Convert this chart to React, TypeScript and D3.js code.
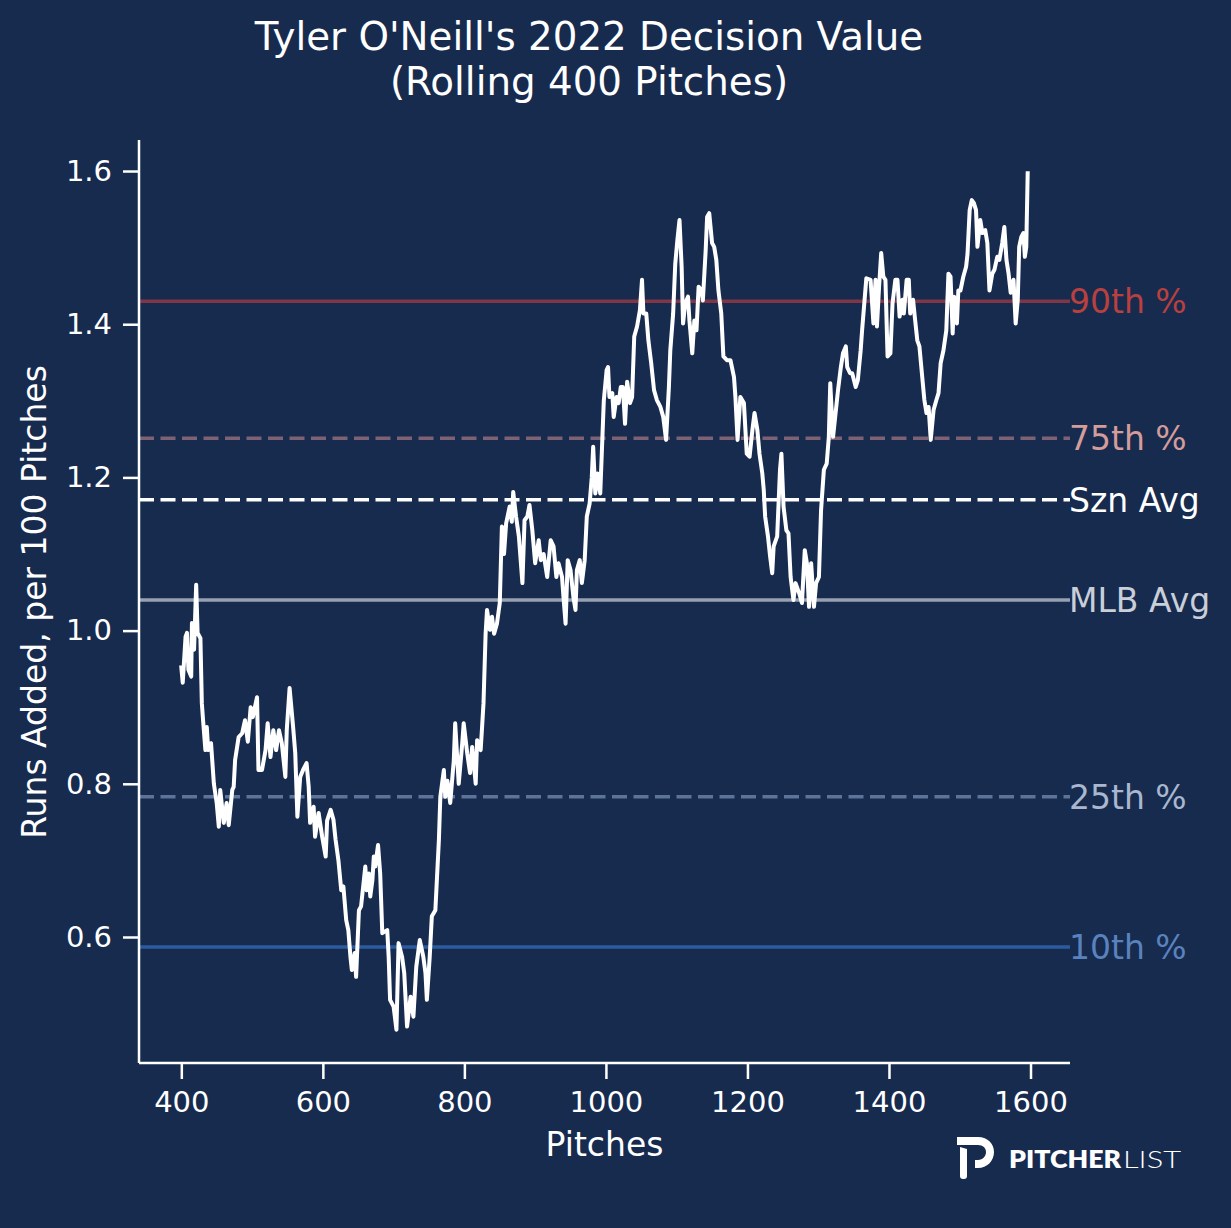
import React, { useEffect, useRef } from 'react';
import * as d3 from 'd3';

// rolling 400-pitch decision value
const pitches = [
  400, 402, 406, 408, 410, 414, 415, 418, 421, 423, 427, 429, 431, 434, 436, 438, 442, 446, 450, 453,
  455, 460, 464, 467, 472, 474, 476, 481, 486, 490, 494, 498, 501, 507, 509, 514, 519, 522, 526, 530,
  534, 538, 542, 547, 549, 553, 558, 561, 564, 568, 572, 577, 580, 582, 587, 589, 594, 599, 604, 606,
  611, 615, 618, 622, 626, 629, 633, 636, 639, 641, 645, 647, 651, 654, 657, 660, 662, 665, 667, 670,
  672, 674, 678, 681, 684, 691, 693, 695, 700, 704, 707, 712, 715, 719, 724, 728, 732, 737, 742, 745,
  747, 751, 754, 759, 764, 766, 771, 773, 776, 780, 785, 787, 792, 797, 799, 804, 808, 811, 816, 818,
  823, 825, 827, 830, 832, 836, 839, 842, 846, 850, 853, 856, 859, 864, 867, 869, 873, 877, 882, 885,
  889, 892, 896, 900, 905, 908, 912, 917, 922, 926, 930, 933, 938, 940, 943, 946, 950, 954, 957, 959,
  963, 966, 970, 973, 977, 980, 982, 985, 988, 992, 997, 1001, 1003, 1005, 1009, 1011, 1015, 1018, 1021, 1024,
  1027, 1030, 1034, 1037, 1040, 1044, 1048, 1051, 1053, 1057, 1060, 1064, 1068, 1072, 1077, 1081, 1085, 1089, 1091, 1095,
  1098, 1101, 1104, 1107, 1109, 1112, 1116, 1118, 1122, 1125, 1128, 1131, 1135, 1137, 1141, 1143, 1146, 1150, 1153, 1156,
  1159, 1163, 1166, 1171, 1176, 1181, 1183, 1186, 1190, 1195, 1199, 1203, 1207, 1210, 1214, 1217, 1221, 1223, 1225, 1229,
  1232, 1235, 1237, 1242, 1246, 1248, 1251, 1255, 1258, 1261, 1265, 1268, 1273, 1277, 1281, 1284, 1287, 1290, 1294, 1297,
  1301, 1304, 1308, 1312, 1315, 1317, 1321, 1324, 1328, 1332, 1335, 1339, 1341, 1345, 1348, 1353, 1356, 1360, 1362, 1368,
  1374, 1378, 1381, 1383, 1386, 1389, 1392, 1395, 1398, 1402, 1405, 1409, 1412, 1415, 1419, 1421, 1425, 1428, 1430, 1434,
  1437, 1440, 1443, 1447, 1450, 1453, 1456, 1459, 1463, 1467, 1470, 1473, 1477, 1481, 1484, 1487, 1490, 1492, 1496, 1498,
  1501, 1505, 1509, 1511, 1514, 1517, 1520, 1523, 1525, 1529, 1532, 1536, 1539, 1542, 1546, 1549, 1553, 1556, 1560, 1563,
  1566, 1569, 1572, 1576, 1579, 1582, 1584, 1587, 1590, 1592, 1594, 1596
];

const runsAdded = [
  0.952, 0.932, 0.992, 0.997, 0.949, 0.94, 1.01, 0.975, 1.06, 0.997, 0.99, 0.905, 0.88, 0.844, 0.874, 0.844, 0.853, 0.8, 0.775, 0.744,
  0.792, 0.749, 0.775, 0.746, 0.792, 0.796, 0.831, 0.861, 0.866, 0.883, 0.855, 0.9, 0.887, 0.913, 0.818, 0.818, 0.844, 0.879, 0.835, 0.87,
  0.844, 0.87, 0.853, 0.809, 0.87, 0.925, 0.874, 0.84, 0.757, 0.809, 0.818, 0.827, 0.796, 0.749, 0.77, 0.731, 0.762, 0.731, 0.705, 0.752,
  0.766, 0.753, 0.727, 0.7, 0.661, 0.666, 0.622, 0.609, 0.574, 0.557, 0.579, 0.548, 0.635, 0.64, 0.666, 0.692, 0.661, 0.683, 0.653, 0.674,
  0.705, 0.692, 0.72, 0.683, 0.605, 0.609, 0.574, 0.518, 0.509, 0.479, 0.592, 0.574, 0.553, 0.483, 0.522, 0.496, 0.561, 0.596, 0.574, 0.553,
  0.518, 0.574, 0.627, 0.635, 0.727, 0.783, 0.818, 0.783, 0.804, 0.775, 0.83, 0.879, 0.8, 0.853, 0.879, 0.84, 0.814, 0.848, 0.8, 0.857,
  0.844, 0.874, 0.905, 0.996, 1.027, 1.001, 1.018, 0.996, 1.009, 1.036, 1.136, 1.1, 1.14, 1.162, 1.142, 1.181, 1.149, 1.123, 1.062, 1.144,
  1.149, 1.164, 1.131, 1.088, 1.118, 1.092, 1.1, 1.07, 1.118, 1.11, 1.07, 1.088, 1.07, 1.044, 1.009, 1.092, 1.079, 1.044, 1.027, 1.079,
  1.092, 1.062, 1.092, 1.149, 1.166, 1.2, 1.24, 1.179, 1.205, 1.179, 1.3, 1.34, 1.344, 1.305, 1.31, 1.279, 1.305, 1.297, 1.318, 1.318,
  1.27, 1.325, 1.297, 1.305, 1.384, 1.397, 1.418, 1.458, 1.414, 1.414, 1.379, 1.349, 1.314, 1.301, 1.292, 1.279, 1.249, 1.318, 1.366, 1.414,
  1.479, 1.51, 1.536, 1.475, 1.401, 1.427, 1.436, 1.405, 1.362, 1.405, 1.392, 1.449, 1.444, 1.431, 1.497, 1.54, 1.545, 1.506, 1.501, 1.484,
  1.444, 1.414, 1.358, 1.353, 1.353, 1.331, 1.305, 1.249, 1.305, 1.297, 1.231, 1.227, 1.262, 1.284, 1.262, 1.231, 1.205, 1.184, 1.149, 1.123,
  1.097, 1.075, 1.11, 1.123, 1.21, 1.231, 1.162, 1.131, 1.127, 1.07, 1.04, 1.062, 1.049, 1.036, 1.105, 1.088, 1.031, 1.088, 1.031, 1.062,
  1.07, 1.157, 1.21, 1.218, 1.253, 1.323, 1.253, 1.279, 1.314, 1.344, 1.362, 1.371, 1.344, 1.336, 1.336, 1.318, 1.327, 1.366, 1.392, 1.46,
  1.458, 1.401, 1.458, 1.397, 1.449, 1.493, 1.462, 1.458, 1.358, 1.362, 1.427, 1.458, 1.458, 1.41, 1.432, 1.414, 1.458, 1.458, 1.414, 1.432,
  1.405, 1.379, 1.371, 1.331, 1.301, 1.284, 1.292, 1.249, 1.288, 1.301, 1.31, 1.349, 1.366, 1.392, 1.466, 1.462, 1.388, 1.436, 1.401, 1.444,
  1.444, 1.462, 1.475, 1.492, 1.549, 1.562, 1.558, 1.549, 1.501, 1.536, 1.519, 1.523, 1.506, 1.444, 1.466, 1.471, 1.488, 1.484, 1.506, 1.527,
  1.484, 1.466, 1.441, 1.458, 1.401, 1.432, 1.501, 1.514, 1.519, 1.488, 1.501, 1.597
];

const refLabels = ["90th %", "75th %", "Szn Avg", "MLB Avg", "25th %", "10th %"];
const refValues = [1.43, 1.251, 1.171, 1.04, 0.783, 0.587];

const xTicks = [400, 600, 800, 1000, 1200, 1400, 1600];
const yTicks = [0.6, 0.8, 1.0, 1.2, 1.4, 1.6];

const App: React.FC = () => {
  const chartRef = useRef<SVGSVGElement | null>(null);

  useEffect(() => {
    if (chartRef.current) {
      createChart();
    }
  }, []);

  const createChart = () => {
    const W = 1231;
    const H = 1228;
    const bg = "#172b4f";
    const font = "'DejaVu Sans', sans-serif";

    const svg = d3.select(chartRef.current);
    svg.selectAll("*").remove();
    svg.attr("width", W).attr("height", H);

    svg.append("rect").attr("width", W).attr("height", H).attr("fill", bg);

    const x = d3.scaleLinear().domain([340.2, 1655.8]).range([139, 1070]);
    const y = d3.scaleLinear().domain([0.4355, 1.6405]).range([1063, 140]);

    // reference line styles (same order as refLabels)
    const lineColors = ["#7f3646", "#7e6173", "#ffffff", "#97a0b1", "#5d7397", "#2b5b9e"];
    const textColors = ["#b8403f", "#d49c9a", "#ffffff", "#c9ced8", "#a9b7cf", "#5a83bd"];
    const dashed = [false, true, true, false, true, false];

    const refs = refLabels.map((label, i) => ({ label, value: refValues[i], i }));

    svg.append("g")
      .selectAll("line")
      .data(refs)
      .join("line")
      .attr("x1", x.range()[0])
      .attr("x2", x.range()[1])
      .attr("y1", d => y(d.value))
      .attr("y2", d => y(d.value))
      .attr("stroke", d => lineColors[d.i])
      .attr("stroke-width", 3.5)
      .attr("stroke-dasharray", d => (dashed[d.i] ? "15,6.5" : null));

    svg.append("g")
      .selectAll("text")
      .data(refs)
      .join("text")
      .attr("x", 1069)
      .attr("y", d => y(d.value))
      .attr("dy", "0.36em")
      .attr("font-family", font)
      .attr("font-size", 33)
      .attr("fill", d => textColors[d.i])
      .text(d => d.label);

    const line = d3.line<number>()
      .x((d, i) => x(pitches[i]))
      .y(d => y(d));

    svg.append("path")
      .datum(runsAdded)
      .attr("d", line)
      .attr("fill", "none")
      .attr("stroke", "#ffffff")
      .attr("stroke-width", 4)
      .attr("stroke-linejoin", "round")
      .attr("stroke-linecap", "square");

    // axes
    const xAxis = svg.append("g")
      .attr("transform", "translate(0,1063)")
      .call(d3.axisBottom(x).tickValues(xTicks).tickSize(16).tickPadding(12).tickFormat(d3.format("d")));
    xAxis.select(".domain").attr("d", "M139,0H1070");

    const yAxis = svg.append("g")
      .attr("transform", "translate(139,0)")
      .call(d3.axisLeft(y).tickValues(yTicks).tickSize(16).tickPadding(11).tickFormat(d3.format(".1f")));
    yAxis.select(".domain").attr("d", "M0,140V1063");

    [xAxis, yAxis].forEach(ax => {
      ax.selectAll(".domain").attr("stroke", "#ffffff").attr("stroke-width", 2.5).attr("fill", "none");
      ax.selectAll(".tick line").attr("stroke", "#ffffff").attr("stroke-width", 2.5);
      ax.selectAll(".tick text")
        .attr("fill", "#ffffff")
        .attr("font-family", font)
        .attr("font-size", 29);
    });

    svg.append("text")
      .attr("x", 604.5)
      .attr("y", 1156)
      .attr("text-anchor", "middle")
      .attr("font-family", font)
      .attr("font-size", 33)
      .attr("fill", "#ffffff")
      .text("Pitches");

    svg.append("text")
      .attr("transform", "translate(46,602) rotate(-90)")
      .attr("text-anchor", "middle")
      .attr("font-family", font)
      .attr("font-size", 33)
      .attr("fill", "#ffffff")
      .text("Runs Added, per 100 Pitches");

    const title = svg.append("text")
      .attr("text-anchor", "middle")
      .attr("font-family", font)
      .attr("font-size", 38.8)
      .attr("fill", "#ffffff");
    title.append("tspan").attr("x", 589).attr("y", 50).text("Tyler O'Neill's 2022 Decision Value");
    title.append("tspan").attr("x", 589).attr("y", 95).text("(Rolling 400 Pitches)");

    // Pitcher List logo
    const logo = svg.append("g").attr("fill", "#ffffff");
    logo.append("path")
      .attr("d", "M957,1137 H978 C988,1137 994,1144 994,1152 C994,1161 987,1168 978,1168 H975 V1160 H978 C983,1160 986,1156 986,1152 C986,1148 983,1145 978,1145 H957 Z");
    logo.append("path")
      .attr("d", "M960,1147 L967,1149 V1176 Q967,1179 964,1179 H963 Q960,1179 960,1176 Z");
    logo.append("text")
      .attr("x", 1009)
      .attr("y", 1168)
      .attr("font-family", "Lato, 'Open Sans', sans-serif")
      .attr("font-weight", 800)
      .attr("font-size", 24)
      .attr("textLength", 112)
      .attr("lengthAdjust", "spacingAndGlyphs")
      .text("PITCHER");
    logo.append("text")
      .attr("x", 1123)
      .attr("y", 1168)
      .attr("font-family", "Lato, 'Open Sans', sans-serif")
      .attr("font-weight", 300)
      .attr("font-size", 24)
      .attr("textLength", 58)
      .attr("lengthAdjust", "spacingAndGlyphs")
      .text("LIST");
  };

  return (
    <svg ref={chartRef} style={{ position: 'absolute', left: 0, top: 0, display: 'block' }}></svg>
  );
};

export default App;
